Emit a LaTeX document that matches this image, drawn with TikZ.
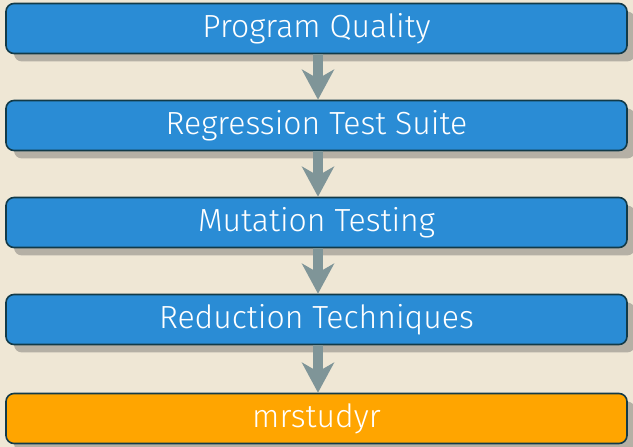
\documentclass[tikz,border=0pt]{standalone}
\usepackage{fontspec}
\setmainfont{Fira Sans Light}
\usetikzlibrary{arrows.meta,shadows}
\definecolor{bg}{HTML}{EFE7D5}
\definecolor{boxblue}{HTML}{2A8CD5}
\definecolor{boxorange}{HTML}{FFA500}
\definecolor{edge}{HTML}{123A48}
\definecolor{shade}{HTML}{B5B0A5}
\definecolor{arrowc}{HTML}{7F9598}
\tikzset{
  stagebox/.style={draw=edge, line width=1.6pt, rounded corners=8pt, minimum width=621pt, minimum height=50pt,
    text=white, font=\fontsize{32}{36}\selectfont, inner sep=0pt,
    drop shadow={shadow xshift=8pt, shadow yshift=-8pt, fill=shade, opacity=1}},
  flow/.style={draw=arrowc, line width=10pt, -{Stealth[width=32pt,length=30pt,inset=9pt]}, shorten >=0pt}
}
\begin{document}
\begin{tikzpicture}[x=1pt,y=1pt]
\fill[bg] (0,0) rectangle (633,447);
\useasboundingbox (0,0) rectangle (633,447);
\node[stagebox, fill=boxblue] (a) at (316.5,418.5) {Program Quality};
\node[stagebox, fill=boxblue] (b) at (316.5,321.5) {Regression Test Suite};
\node[stagebox, fill=boxblue] (c) at (316.5,224.5) {Mutation Testing};
\node[stagebox, fill=boxblue] (d) at (316.5,127.5) {Reduction Techniques};
\node[stagebox, fill=boxorange] (e) at (316.5,28.5) {mrstudyr};
\draw[flow] ([xshift=1.5pt]a.south) -- ([xshift=1.5pt]b.north);
\draw[flow] ([xshift=1.5pt]b.south) -- ([xshift=1.5pt]c.north);
\draw[flow] ([xshift=1.5pt]c.south) -- ([xshift=1.5pt]d.north);
\draw[flow] ([xshift=1.5pt]d.south) -- ([xshift=1.5pt]e.north);
\end{tikzpicture}
\end{document}
